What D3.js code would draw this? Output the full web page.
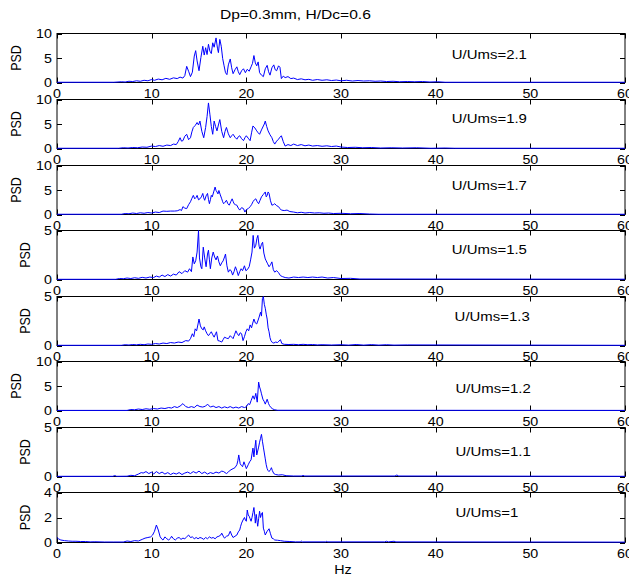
<!DOCTYPE html>
<html>
<head>
<meta charset="utf-8">
<script src="https://cdn.jsdelivr.net/npm/d3@7"></script>
<style>
  body { margin: 0; background: #fff; }
  svg { display: block; }
  text { font-family: "Liberation Sans", Arial, sans-serif; fill: #000; }
</style>
</head>
<body>
<svg id="chart" width="629" height="575"></svg>
<script>
// Power spectral density of pressure fluctuations, one panel per velocity ratio
const titleText = "Dp=0.3mm, H/Dc=0.6";
const xLabel = "Hz";
const yLabel = "PSD";
const hzTicks = [0, 10, 20, 30, 40, 50, 60];
const ratioLabels = ["U/Ums=2.1", "U/Ums=1.9", "U/Ums=1.7", "U/Ums=1.5", "U/Ums=1.3", "U/Ums=1.2", "U/Ums=1.1", "U/Ums=1"];
const yMax = [10, 10, 10, 5, 5, 10, 5, 4];
const yTicks = [[0, 5, 10], [0, 5, 10], [0, 5, 10], [0, 5], [0, 5], [0, 5, 10], [0, 5], [0, 2, 4]];
// label anchor in data units (Hz, PSD)
const labelAt = [[41.7, 5.8], [41.7, 6.2], [41.7, 5.9], [41.7, 3.05], [42.0, 3.0], [42.1, 4.6], [42.1, 2.55], [42.1, 2.4]];

// [Hz, PSD] samples for each ratio
const psd21 = [[0,0.05],[6,0.05],[6.8,0.15],[7.2,0.1],[7.6,0.25],[8.0,0.2],[8.4,0.35],[8.8,0.25],[9.2,0.45],[9.6,0.35],[10.0,0.6],[10.3,0.45],[10.7,0.7],[11.1,0.55],[11.5,0.85],[11.9,0.65],[12.3,0.95],[12.7,0.8],[13.0,1.1],[13.3,0.9],[13.5,1.4],[13.7,3.3],[13.9,2.3],[14.1,1.2],[14.3,2.1],[14.5,5.4],[14.65,6.5],[14.8,4.4],[15.0,2.4],[15.2,5.1],[15.4,7.4],[15.55,5.6],[15.7,7.1],[15.85,5.7],[16.0,7.8],[16.15,6.4],[16.3,5.9],[16.45,8.1],[16.6,7.2],[16.8,9.1],[16.95,7.0],[17.05,6.1],[17.2,8.8],[17.35,7.4],[17.5,4.9],[17.65,3.4],[17.8,2.0],[17.95,1.6],[18.1,3.6],[18.3,4.8],[18.45,3.0],[18.6,1.8],[18.8,2.6],[19.0,3.2],[19.15,2.2],[19.3,1.6],[19.5,2.4],[19.7,2.8],[19.9,2.0],[20.1,2.7],[20.3,2.3],[20.5,3.2],[20.65,3.9],[20.8,5.5],[20.95,4.0],[21.1,3.4],[21.25,4.2],[21.4,2.0],[21.6,1.5],[21.8,1.2],[22.0,2.8],[22.2,3.5],[22.35,2.2],[22.5,1.5],[22.7,3.0],[22.9,3.6],[23.05,2.6],[23.2,2.4],[23.4,3.4],[23.55,3.1],[23.7,0.8],[23.9,1.3],[24.1,1.0],[24.4,1.2],[24.7,0.8],[25.0,0.9],[25.4,0.6],[25.8,0.75],[26.2,0.55],[26.6,0.65],[27.0,0.45],[27.5,0.6],[28.0,0.45],[28.5,0.55],[29.0,0.4],[29.5,0.5],[30.0,0.35],[30.6,0.45],[31.2,0.3],[31.8,0.4],[32.4,0.3],[33.0,0.35],[33.6,0.25],[34.2,0.3],[34.8,0.2],[35.5,0.25],[36.2,0.15],[37.0,0.2],[37.8,0.15],[38.6,0.2],[39.4,0.1],[40.2,0.15],[41.0,0.05],[60,0.05]];
const psd19 = [[0,0.05],[6.5,0.05],[7.0,0.15],[7.5,0.1],[8.0,0.2],[8.5,0.15],[9.0,0.3],[9.5,0.25],[10.0,0.5],[10.4,0.4],[10.8,0.6],[11.2,0.45],[11.6,0.7],[12.0,0.6],[12.3,0.9],[12.6,0.8],[12.8,1.4],[13.0,2.2],[13.15,1.5],[13.3,1.6],[13.5,2.5],[13.7,2.9],[13.9,1.8],[14.1,2.2],[14.25,3.4],[14.4,4.3],[14.6,4.7],[14.8,5.3],[14.95,4.8],[15.1,5.6],[15.3,3.5],[15.5,2.2],[15.7,4.3],[15.85,6.5],[16.0,9.3],[16.15,7.0],[16.3,4.5],[16.45,2.9],[16.6,5.6],[16.75,4.5],[16.9,3.6],[17.05,4.8],[17.2,5.9],[17.4,3.5],[17.6,2.2],[17.75,3.5],[17.9,4.3],[18.1,3.0],[18.3,2.2],[18.45,2.6],[18.6,2.9],[18.8,2.3],[19.0,1.9],[19.15,2.4],[19.3,2.6],[19.5,2.0],[19.7,1.6],[19.85,2.2],[20.0,2.6],[20.2,2.1],[20.4,1.6],[20.55,3.2],[20.7,4.6],[20.9,4.2],[21.1,3.6],[21.25,3.2],[21.4,2.9],[21.6,3.8],[21.8,4.6],[21.9,5.0],[22.0,5.6],[22.15,4.5],[22.3,3.6],[22.5,2.8],[22.7,2.2],[22.85,1.4],[23.0,0.9],[23.2,1.5],[23.4,1.9],[23.55,2.3],[23.7,2.6],[23.9,1.4],[24.1,0.5],[24.4,0.8],[24.7,0.6],[25.0,0.9],[25.4,0.6],[25.8,0.8],[26.2,0.55],[26.6,0.7],[27.0,0.5],[27.5,0.6],[28.0,0.45],[28.5,0.55],[29.0,0.4],[29.5,0.5],[30.0,0.3],[30.7,0.2],[31.5,0.25],[32.3,0.15],[33.2,0.2],[34.2,0.1],[35.3,0.15],[36.5,0.1],[38.0,0.15],[39.5,0.05],[41.0,0.1],[42,0.05],[60,0.05]];
const psd17 = [[0,0.05],[6.8,0.05],[7.2,0.2],[7.6,0.15],[8.0,0.3],[8.4,0.2],[8.8,0.35],[9.2,0.25],[9.6,0.4],[10.0,0.3],[10.4,0.5],[10.8,0.4],[11.2,0.7],[11.6,0.65],[12.0,0.7],[12.4,0.7],[12.7,0.75],[13.0,1.0],[13.15,0.8],[13.3,1.6],[13.5,1.3],[13.7,1.2],[13.9,2.0],[14.1,2.6],[14.25,3.3],[14.4,3.9],[14.55,3.2],[14.7,3.5],[14.8,3.9],[14.95,3.0],[15.1,3.2],[15.25,3.6],[15.4,4.3],[15.5,3.4],[15.6,2.9],[15.75,3.8],[15.9,4.3],[16.0,3.1],[16.1,2.2],[16.2,3.0],[16.3,3.9],[16.4,3.6],[16.55,4.6],[16.7,5.6],[16.8,4.9],[16.9,4.6],[17.0,4.2],[17.1,4.9],[17.25,4.0],[17.4,3.2],[17.5,2.6],[17.6,2.2],[17.75,2.5],[17.9,2.9],[18.05,2.2],[18.2,1.9],[18.35,2.6],[18.5,3.2],[18.6,2.7],[18.7,2.2],[18.85,2.0],[19.0,1.9],[19.15,1.3],[19.3,0.9],[19.5,1.4],[19.7,1.2],[19.85,0.5],[20.0,1.0],[20.2,1.2],[20.4,1.6],[20.55,2.0],[20.7,2.6],[20.85,3.0],[21.0,3.2],[21.15,2.6],[21.3,2.2],[21.45,2.9],[21.6,3.6],[21.8,4.1],[22.0,4.6],[22.1,3.6],[22.2,3.9],[22.3,4.6],[22.4,4.3],[22.55,2.8],[22.7,1.9],[22.85,2.0],[23.0,2.2],[23.2,1.8],[23.4,1.6],[23.55,1.2],[23.7,0.9],[24.0,0.8],[24.3,0.9],[24.6,0.6],[25.0,0.5],[25.4,0.35],[25.8,0.45],[26.2,0.3],[26.7,0.4],[27.2,0.3],[27.7,0.35],[28.2,0.25],[28.7,0.3],[29.2,0.2],[30.0,0.25],[31.0,0.15],[32.0,0.2],[33.0,0.1],[34.0,0.05],[60,0.05]];
const psd15 = [[0,0.02],[6.2,0.02],[6.6,0.1],[7.0,0.08],[7.4,0.15],[7.8,0.1],[8.2,0.18],[8.6,0.12],[9.0,0.22],[9.4,0.15],[9.8,0.25],[10.2,0.2],[10.5,0.35],[10.8,0.25],[11.1,0.45],[11.4,0.3],[11.7,0.5],[12.0,0.35],[12.3,0.55],[12.6,0.45],[12.9,0.8],[13.2,0.6],[13.5,0.9],[13.8,0.75],[14.0,1.1],[14.2,0.8],[14.35,2.3],[14.5,1.6],[14.65,1.9],[14.8,2.8],[14.95,5.0],[15.05,2.2],[15.2,1.3],[15.3,1.1],[15.45,3.3],[15.6,2.2],[15.75,1.3],[15.9,2.6],[16.0,3.0],[16.1,2.0],[16.2,1.1],[16.35,2.2],[16.5,2.8],[16.65,2.3],[16.8,2.0],[16.95,2.4],[17.1,1.8],[17.25,1.4],[17.4,1.7],[17.55,1.9],[17.7,2.3],[17.8,2.6],[17.95,1.4],[18.1,0.75],[18.25,1.0],[18.4,0.9],[18.55,0.45],[18.7,0.8],[18.85,1.3],[19.0,0.9],[19.15,0.4],[19.3,0.8],[19.45,1.1],[19.6,0.9],[19.8,1.4],[19.95,0.9],[20.1,1.0],[20.3,1.3],[20.45,2.0],[20.6,2.8],[20.72,4.5],[20.85,3.2],[21.0,3.5],[21.12,4.2],[21.22,4.5],[21.35,3.4],[21.45,3.1],[21.6,3.6],[21.72,3.8],[21.85,2.7],[22.0,2.1],[22.1,1.9],[22.25,1.6],[22.4,1.3],[22.55,1.5],[22.7,1.8],[22.85,1.0],[23.0,0.75],[23.2,0.9],[23.4,0.7],[23.6,0.4],[23.8,0.3],[24.1,0.2],[24.5,0.15],[25.0,0.25],[25.5,0.2],[26.0,0.25],[26.5,0.2],[27.0,0.25],[27.5,0.2],[28.0,0.25],[28.6,0.15],[29.2,0.2],[30.0,0.1],[31.0,0.12],[32.0,0.05],[60,0.03]];
const psd13 = [[0,0.02],[6.8,0.02],[7.2,0.08],[7.6,0.05],[8.0,0.1],[8.4,0.07],[8.8,0.12],[9.2,0.08],[9.6,0.15],[10.0,0.12],[10.4,0.2],[10.8,0.15],[11.2,0.25],[11.6,0.2],[12.0,0.3],[12.4,0.25],[12.8,0.35],[13.2,0.3],[13.6,0.5],[13.9,0.45],[14.1,0.7],[14.3,1.2],[14.45,0.9],[14.6,1.7],[14.75,1.5],[14.9,2.2],[15.0,2.7],[15.15,2.0],[15.3,1.7],[15.45,1.6],[15.55,1.9],[15.7,1.5],[15.85,1.2],[16.0,1.0],[16.15,1.2],[16.3,1.4],[16.45,1.1],[16.6,0.85],[16.75,1.2],[16.85,1.4],[17.0,0.5],[17.2,0.45],[17.4,0.35],[17.55,0.6],[17.7,0.85],[17.9,0.75],[18.1,0.7],[18.3,1.0],[18.45,0.85],[18.6,0.7],[18.75,1.1],[18.9,1.5],[19.05,1.2],[19.2,1.0],[19.35,1.3],[19.5,1.2],[19.65,0.5],[19.8,0.9],[19.95,1.4],[20.1,1.7],[20.25,1.5],[20.4,2.1],[20.55,1.8],[20.65,2.2],[20.8,2.7],[20.95,2.3],[21.1,2.2],[21.25,2.6],[21.35,2.9],[21.5,3.4],[21.6,3.0],[21.7,4.8],[21.8,5.0],[21.9,4.2],[22.0,3.8],[22.1,3.2],[22.2,2.7],[22.3,1.8],[22.4,1.4],[22.5,0.8],[22.6,0.5],[22.75,0.3],[22.9,0.25],[23.1,0.35],[23.3,0.3],[23.45,0.45],[23.6,0.6],[23.75,0.2],[24.0,0.12],[24.5,0.1],[25.0,0.12],[25.5,0.08],[26.0,0.12],[26.5,0.08],[27.0,0.1],[27.5,0.06],[28.0,0.08],[29.0,0.05],[30.0,0.08],[30.8,0.04],[31.6,0.1],[32.4,0.04],[33.2,0.09],[34.0,0.04],[34.8,0.08],[35.6,0.04],[37.0,0.06],[60,0.02]];
const psd12 = [[0,0.02],[7.4,0.02],[7.8,0.2],[8.2,0.15],[8.6,0.3],[9.0,0.2],[9.4,0.35],[9.8,0.25],[10.2,0.4],[10.6,0.3],[11.0,0.5],[11.4,0.4],[11.8,0.6],[12.1,0.5],[12.4,0.8],[12.7,0.6],[13.0,0.9],[13.3,1.4],[13.6,0.8],[13.9,0.6],[14.2,0.8],[14.5,0.6],[14.8,1.1],[15.1,0.8],[15.4,0.7],[15.7,0.9],[15.9,1.3],[16.2,0.7],[16.5,0.9],[16.8,0.6],[17.1,0.8],[17.4,0.5],[17.7,0.75],[18.0,0.55],[18.3,0.8],[18.6,0.5],[18.9,0.7],[19.2,0.5],[19.5,0.8],[19.8,0.6],[20.0,0.75],[20.2,1.4],[20.35,1.2],[20.5,2.0],[20.7,3.0],[20.85,2.3],[21.0,3.5],[21.15,1.7],[21.3,5.8],[21.4,4.8],[21.5,4.2],[21.6,3.4],[21.75,2.3],[21.9,1.8],[22.0,1.3],[22.2,2.3],[22.35,1.4],[22.45,1.0],[22.6,0.6],[22.8,0.3],[23.0,0.15],[23.3,0.05],[60,0.02]];
const psd11 = [[0,0.02],[5.9,0.02],[6.1,0.1],[6.3,0.02],[7.4,0.03],[7.8,0.12],[8.2,0.08],[8.6,0.25],[8.9,0.4],[9.1,0.35],[9.4,0.5],[9.7,0.3],[10.0,0.45],[10.2,0.25],[10.5,0.5],[10.8,0.3],[11.1,0.45],[11.4,0.25],[11.7,0.4],[12.0,0.2],[12.3,0.35],[12.6,0.25],[12.9,0.4],[13.2,0.2],[13.5,0.35],[13.8,0.45],[14.1,0.3],[14.4,0.5],[14.7,0.35],[15.0,0.55],[15.3,0.3],[15.6,0.45],[15.9,0.25],[16.2,0.4],[16.5,0.3],[16.8,0.45],[17.1,0.35],[17.4,0.55],[17.6,0.5],[17.9,0.3],[18.1,0.45],[18.3,0.65],[18.6,0.8],[18.8,0.9],[19.0,1.2],[19.1,1.6],[19.2,2.2],[19.35,1.3],[19.5,1.1],[19.6,1.0],[19.75,1.5],[19.9,1.1],[20.0,0.8],[20.2,1.2],[20.35,1.5],[20.5,1.7],[20.6,2.3],[20.7,2.9],[20.8,2.0],[20.9,2.9],[21.0,3.7],[21.1,2.2],[21.2,2.6],[21.3,3.0],[21.4,3.5],[21.5,3.9],[21.6,4.3],[21.7,3.6],[21.8,3.0],[21.9,2.4],[22.0,1.8],[22.1,1.2],[22.2,0.8],[22.3,0.6],[22.4,0.5],[22.55,0.7],[22.65,0.9],[22.75,0.6],[22.9,0.3],[23.1,0.2],[23.4,0.15],[23.8,0.18],[24.2,0.08],[25.0,0.05],[25.9,0.05],[26.0,0.15],[26.1,0.05],[35.7,0.05],[35.9,0.15],[36.1,0.05],[60,0.02]];
const psd10 = [[0,0.4],[0.15,0.3],[0.4,0.2],[0.8,0.15],[1.2,0.12],[1.6,0.1],[2.0,0.1],[2.5,0.08],[3.0,0.08],[3.5,0.05],[4.0,0.06],[5.0,0.04],[6.0,0.04],[7.0,0.04],[7.4,0.12],[7.8,0.08],[8.2,0.15],[8.6,0.12],[9.0,0.25],[9.3,0.35],[9.6,0.4],[9.9,0.45],[10.1,0.6],[10.3,0.9],[10.5,1.4],[10.7,1.0],[10.9,0.45],[11.1,0.25],[11.2,0.2],[11.4,0.45],[11.6,0.3],[11.8,0.2],[12.0,0.35],[12.1,0.5],[12.3,0.3],[12.5,0.2],[12.7,0.35],[12.9,0.4],[13.1,0.25],[13.3,0.35],[13.5,0.3],[13.7,0.45],[13.9,0.6],[14.1,0.4],[14.3,0.45],[14.5,0.3],[14.7,0.4],[14.9,0.3],[15.1,0.4],[15.3,0.35],[15.5,0.25],[15.7,0.4],[15.9,0.3],[16.1,0.45],[16.3,0.35],[16.5,0.4],[16.7,0.3],[16.9,0.45],[17.1,0.5],[17.3,0.6],[17.4,0.75],[17.6,0.45],[17.7,0.35],[17.9,0.5],[18.1,0.55],[18.3,0.9],[18.45,0.6],[18.6,0.4],[18.8,0.5],[19.0,0.6],[19.15,0.85],[19.3,1.0],[19.4,1.3],[19.5,1.55],[19.65,1.8],[19.8,2.0],[19.9,1.8],[20.0,1.7],[20.1,2.6],[20.2,2.2],[20.3,2.1],[20.4,1.9],[20.5,1.7],[20.6,2.0],[20.7,2.4],[20.8,2.8],[20.9,2.1],[20.95,1.55],[21.05,2.25],[21.15,1.6],[21.2,1.3],[21.3,1.9],[21.4,2.5],[21.5,2.0],[21.6,2.3],[21.7,2.4],[21.8,1.15],[21.9,0.9],[22.0,0.6],[22.1,0.75],[22.2,0.9],[22.3,1.0],[22.4,1.1],[22.55,0.7],[22.7,0.35],[22.85,0.3],[23.0,0.2],[23.3,0.18],[23.6,0.15],[24.0,0.1],[24.6,0.08],[25.2,0.05],[25.7,0.05],[25.8,0.12],[25.9,0.05],[28.4,0.05],[28.5,0.1],[28.6,0.05],[34.6,0.05],[34.8,0.1],[35.0,0.05],[35.6,0.1],[35.8,0.05],[60,0.03]];

const series = [psd21, psd19, psd17, psd15, psd13, psd12, psd11, psd10];

const svg = d3.select("#chart");
const plotLeft = 57, plotRight = 625;
const firstTop = 33.3, panelStep = 65.6, panelHeight = 49;
const fontStack = '"Liberation Sans", Arial, sans-serif';

const x = d3.scaleLinear().domain([0, 60]).range([plotLeft, plotRight]);

// text drawn slightly wide, as in the exported figure
function wideText(parent, px, py, str, size, sx, anchor) {
  const g = parent.append("g").attr("transform", `translate(${px},${py}) scale(${sx},1)`);
  g.append("text")
    .attr("font-size", size)
    .attr("text-anchor", anchor)
    .attr("dy", "0.35em")
    .text(str);
  return g;
}

series.forEach((data, i) => {
  const top = Math.round(firstTop + i * panelStep) + 0.5;
  const bottom = Math.round(firstTop + i * panelStep + panelHeight) + 0.5;
  const y = d3.scaleLinear().domain([0, yMax[i]]).range([bottom, top]);
  const panel = svg.append("g");

  // tick labels
  hzTicks.forEach(t => wideText(panel, x(t), bottom + 11, String(t), 13, 1.1, "middle"));
  yTicks[i].forEach(t => wideText(panel, plotLeft - 5, y(t), String(t), 13, 1.1, "end"));

  // y label placed clear of the tick labels
  const twoDigit = yTicks[i].some(t => String(t).length > 1);
  panel.append("text")
    .attr("transform", `translate(${twoDigit ? 16 : 25},${(top + bottom) / 2}) rotate(-90) scale(1,1.15)`)
    .attr("font-size", 12.5)
    .attr("text-anchor", "middle")
    .attr("dy", "0.35em")
    .text(yLabel);

  // axes box and inward ticks
  const frame = panel.append("g").attr("stroke", "#000").attr("stroke-width", 1).attr("fill", "none");
  frame.append("rect").attr("x", plotLeft).attr("y", top)
    .attr("width", plotRight - plotLeft).attr("height", bottom - top);
  const tickLen = 5;
  hzTicks.forEach(t => {
    const px = Math.round(x(t)) + 0.5;
    frame.append("line").attr("x1", px).attr("x2", px).attr("y1", bottom).attr("y2", bottom - tickLen);
    frame.append("line").attr("x1", px).attr("x2", px).attr("y1", top).attr("y2", top + tickLen);
  });
  yTicks[i].forEach(t => {
    const py = Math.round(y(t)) + 0.5;
    frame.append("line").attr("x1", plotLeft).attr("x2", plotLeft + tickLen).attr("y1", py).attr("y2", py);
    frame.append("line").attr("x1", plotRight).attr("x2", plotRight - tickLen).attr("y1", py).attr("y2", py);
  });

  // spectrum
  const line = d3.line().x(d => x(d[0])).y(d => y(d[1]));
  panel.append("path")
    .datum(data)
    .attr("d", line)
    .attr("fill", "none")
    .attr("stroke", "#0000ff")
    .attr("stroke-width", 1)
    .attr("stroke-linejoin", "round");

  // velocity ratio annotation
  wideText(panel, x(labelAt[i][0]), y(labelAt[i][1]), ratioLabels[i], 13, 1.15, "start");
});

// figure title and x label
wideText(svg, 220, 15, titleText, 12.5, 1.25, "start");
wideText(svg, x(30) + 2, 569, xLabel, 13, 1.1, "middle");
</script>
</body>
</html>
